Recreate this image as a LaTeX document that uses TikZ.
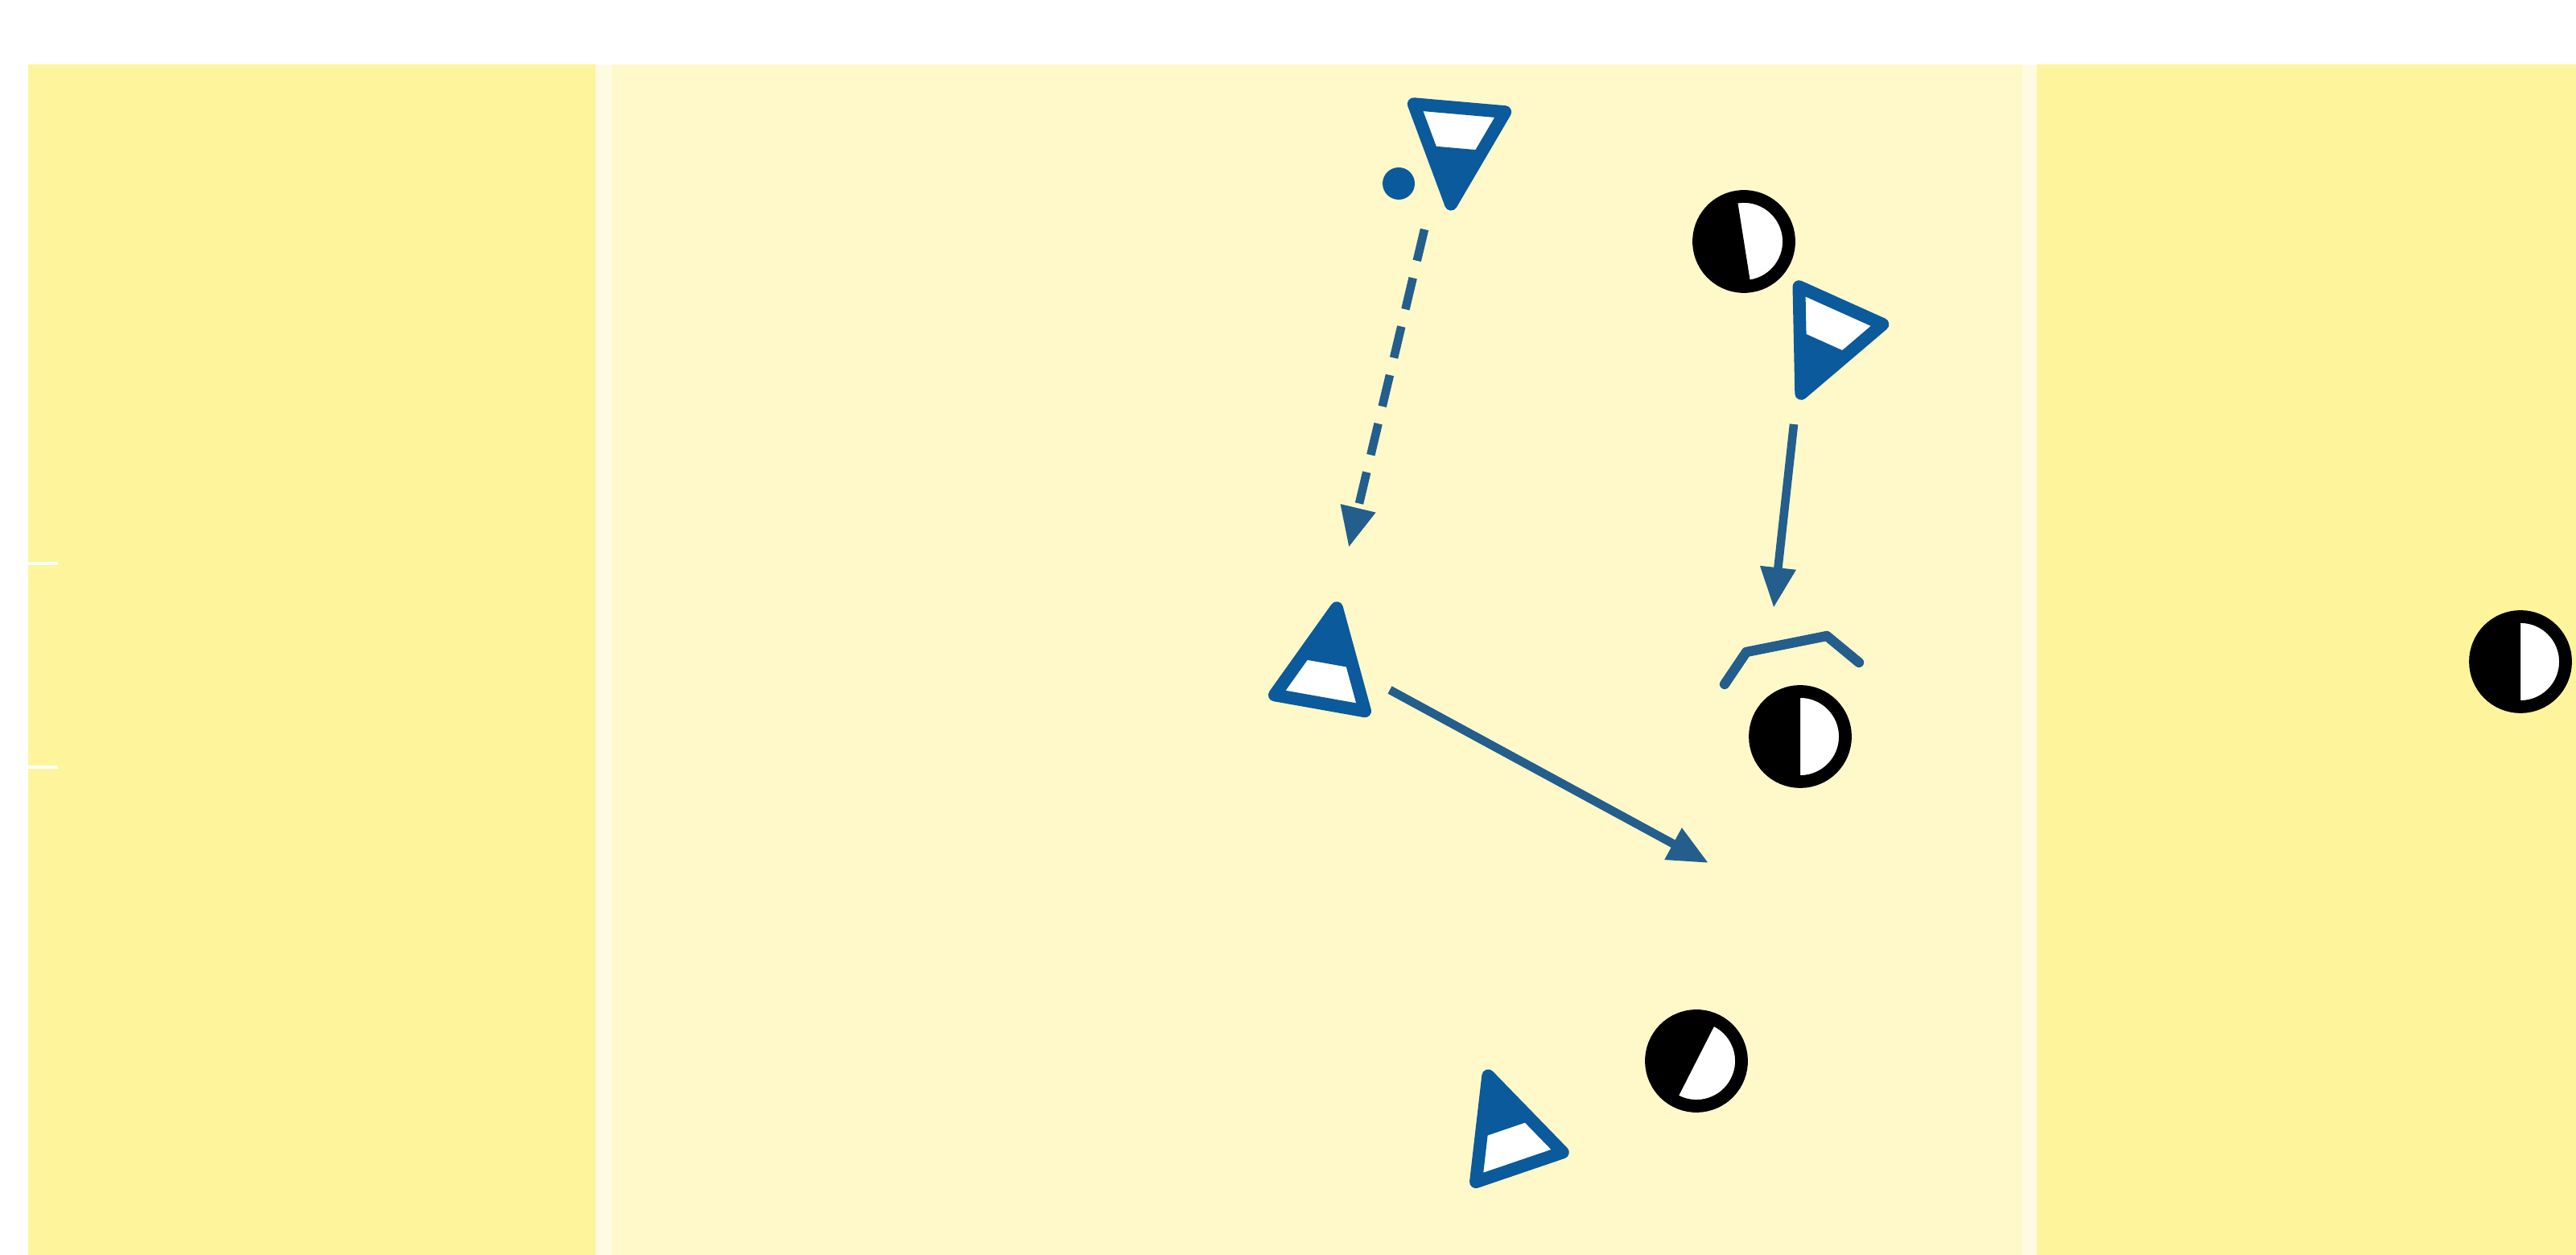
\documentclass[tikz,border=0pt]{standalone}
\usepackage{xcolor}
\usepackage{tikz}
\usetikzlibrary{arrows.meta}
\definecolor{pitchdark}{HTML}{FEF49B}
\definecolor{pitchlight}{HTML}{FFF9C9}
\definecolor{pitchline}{HTML}{FFFBE3}
\definecolor{teamblue}{HTML}{0A5A9C}
\definecolor{runblue}{HTML}{235E8C}
\tikzset{
  attacker/.pic={
    \fill[white] (-0.57,-0.4) -- (0.57,-0.4) -- (0,0.8) -- cycle;
    \fill[teamblue] (-0.33,0.1) -- (0.33,0.1) -- (0,0.8) -- cycle;
    \draw[teamblue,line width=4.5pt,line join=round] (-0.57,-0.4) -- (0.57,-0.4) -- (0,0.8) -- cycle;
  },
  defender/.pic={
    \fill[white] (0,0) circle (0.56);
    \fill[black] (0,0.56) arc (90:270:0.56) -- cycle;
    \draw[black,line width=4.5pt] (0,0) circle (0.56);
  }
}

\begin{document}
\begin{tikzpicture}[
  run/.style={runblue,line width=3pt,-{Triangle[length=0.5cm,width=0.42cm]}},
  pass/.style={run,dash pattern=on 0.4cm off 0.22cm},
  block/.style={runblue,line width=3.5pt,line cap=round,line join=round}
]
\useasboundingbox (0,0) rectangle (32.01,15.59);
\fill[white] (0,0) rectangle (32.01,15.59);
\fill[pitchdark] (0.35,0) rectangle (7.40,14.79);
\fill[pitchline] (7.40,0) rectangle (7.60,14.79);
\fill[pitchlight] (7.60,0) rectangle (25.13,14.79);
\fill[pitchline] (25.13,0) rectangle (25.31,14.79);
\fill[pitchdark] (25.31,0) rectangle (32.01,14.79);
\draw[white,line width=1.2pt] (0.35,8.59) -- (0.72,8.59) (0.35,6.06) -- (0.72,6.06);

\coordinate (att1) at (18.10,13.85);
\coordinate (att2) at (22.71,11.43);
\coordinate (att3) at (16.47,7.25);
\coordinate (att4) at (18.75,1.47);
\coordinate (def1) at (21.67,12.59);
\coordinate (def2) at (22.37,6.44);
\coordinate (def3) at (21.08,2.41);
\coordinate (def4) at (31.32,7.37);

\pic[rotate=175] at (att1) {attacker};
\pic[rotate=155.8] at (att2) {attacker};
\pic[rotate=-10.1] at (att3) {attacker};
\pic[rotate=18.8] at (att4) {attacker};
\pic[rotate=9] at (def1) {defender};
\pic at (def2) {defender};
\pic[rotate=-27] at (def3) {defender};
\pic at (def4) {defender};

\fill[teamblue] (17.38,13.31) circle (0.2);

\coordinate (passfrom) at (17.70,12.74);
\coordinate (passto) at (16.76,8.79);
\coordinate (runfrom) at (22.29,10.32);
\coordinate (runto) at (22.04,8.04);
\coordinate (dribfrom) at (17.27,7.02);
\coordinate (dribto) at (21.23,4.87);
\draw[pass] (passfrom) -- (passto);
\draw[run] (runfrom) -- (runto);
\draw[run] (dribfrom) -- (dribto);
\draw[block] (21.43,7.09) -- (21.70,7.49) -- (22.70,7.69) -- (23.10,7.36);
\end{tikzpicture}
\end{document}
